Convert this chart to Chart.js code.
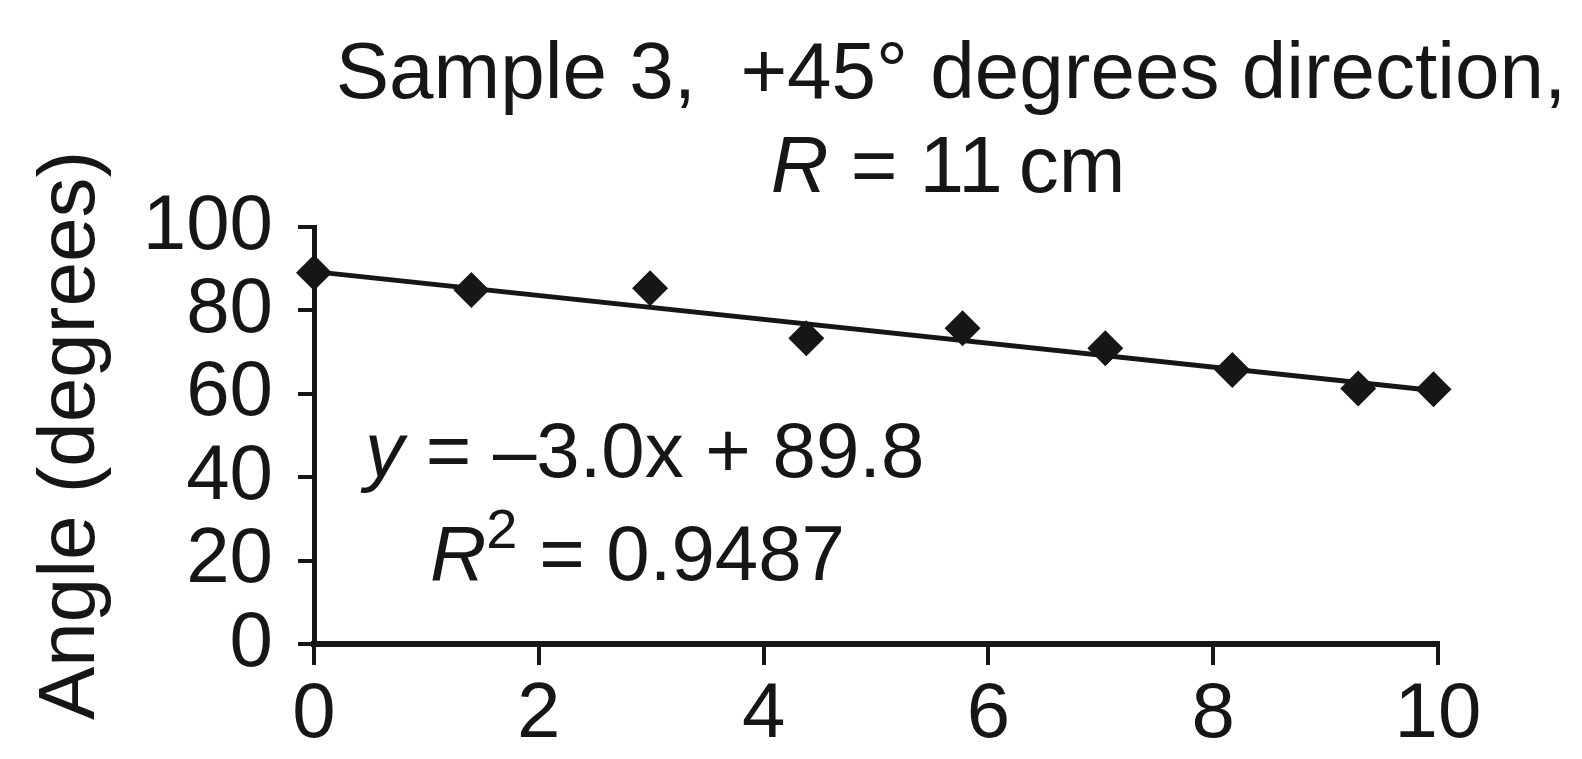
<!DOCTYPE html>
<html>
<head>
<meta charset="utf-8">
<script src="https://cdn.jsdelivr.net/npm/chart.js@4"></script>
<style>
  html, body { margin: 0; padding: 0; background: #fff; }
  #wrap { position: relative; width: 1582px; height: 759px; }
</style>
</head>
<body>
<div id="wrap"><canvas id="angle-chart"></canvas></div>
<script>
// values
const distances = [0, 1.40, 2.99, 4.38, 5.77, 7.04, 8.17, 9.29, 9.96];
const angles = [89.0, 84.9, 85.3, 73.3, 75.7, 70.9, 65.7, 61.3, 61.1];
const trendX = [0, 9.96];
const trendY = [89.3, 60.8];
const xTicks = [0, 2, 4, 6, 8, 10];
const yTicks = [0, 20, 40, 60, 80, 100];

const ink = "#161616";
const family = "'Liberation Sans', Arial, Helvetica, sans-serif";

// draws a row of text pieces (some italic / smaller) one after another
function drawRuns(ctx, runs, x, baseline, center) {
  ctx.save();
  ctx.fillStyle = ink;
  ctx.textAlign = "left";
  ctx.textBaseline = "alphabetic";
  let total = 0;
  runs.forEach(r => {
    ctx.font = (r.italic ? "italic " : "") + r.size + "px " + family;
    r.w = ctx.measureText(r.text).width;
    total += r.w;
  });
  let cx = center ? x - total / 2 : x;
  runs.forEach(r => {
    ctx.font = (r.italic ? "italic " : "") + r.size + "px " + family;
    ctx.fillText(r.text, cx, baseline - (r.rise || 0));
    cx += r.w;
  });
  ctx.restore();
}

const textPlugin = {
  id: "texts",
  afterDraw(chart) {
    const ctx = chart.ctx;
    drawRuns(ctx, [{ text: "Sample 3,  +45\u00b0 degrees direction,", size: 80 }], 951, 98, true);
    drawRuns(ctx, [
      { text: "R", size: 80, italic: true },
      { text: " = 11\u2009cm", size: 80 }
    ], 948, 192, true);
    drawRuns(ctx, [
      { text: "y", size: 78, italic: true },
      { text: " = \u20133.0x + 89.8", size: 78 }
    ], 365, 477, false);
    drawRuns(ctx, [
      { text: "R", size: 78, italic: true },
      { text: "2", size: 56, rise: 32 },
      { text: " = 0.9487", size: 78 }
    ], 430, 580, false);
  }
};

const ctx = document.getElementById("angle-chart").getContext("2d");
new Chart(ctx, {
  type: "scatter",
  data: {
    datasets: [
      {
        label: "Angle",
        data: distances.map((d, i) => ({ x: d, y: angles[i] })),
        pointStyle: "rectRot",
        pointRadius: 18,
        backgroundColor: ink,
        borderWidth: 0,
        clip: false,
        order: 1
      },
      {
        label: "Trend",
        data: trendX.map((d, i) => ({ x: d, y: trendY[i] })),
        showLine: true,
        borderColor: ink,
        borderWidth: 5,
        pointRadius: 0,
        clip: false,
        order: 2
      }
    ]
  },
  options: {
    responsive: true,
    maintainAspectRatio: false,
    animation: false,
    layout: { padding: { top: 227, right: 144, bottom: 0, left: 0 } },
    plugins: {
      legend: { display: false },
      tooltip: { enabled: false },
      title: { display: false }
    },
    scales: {
      x: {
        type: "linear",
        min: 0,
        max: 10,
        afterBuildTicks: s => { s.ticks = xTicks.map(v => ({ value: v })); },
        afterFit: s => { s.height = 115; },
        border: { display: true, color: ink, width: 6 },
        grid: { drawOnChartArea: false, drawTicks: true, tickLength: 21, color: ink, lineWidth: 4 },
        ticks: { color: ink, padding: 4, autoSkip: false, maxRotation: 0, font: { family: family, size: 78 } }
      },
      y: {
        type: "linear",
        min: 0,
        max: 100,
        afterBuildTicks: s => { s.ticks = yTicks.map(v => ({ value: v })); },
        afterFit: s => { s.width = 314; },
        border: { display: true, color: ink, width: 5 },
        grid: { drawOnChartArea: false, drawTicks: true, tickLength: 16, color: ink, lineWidth: 4 },
        ticks: { color: ink, padding: 25, autoSkip: false, font: { family: family, size: 78 } },
        title: {
          display: true,
          text: "Angle (degrees)",
          color: ink,
          padding: { top: 24, bottom: 0 },
          font: { family: family, size: 80 }
        }
      }
    }
  },
  plugins: [textPlugin]
});
</script>
</body>
</html>
